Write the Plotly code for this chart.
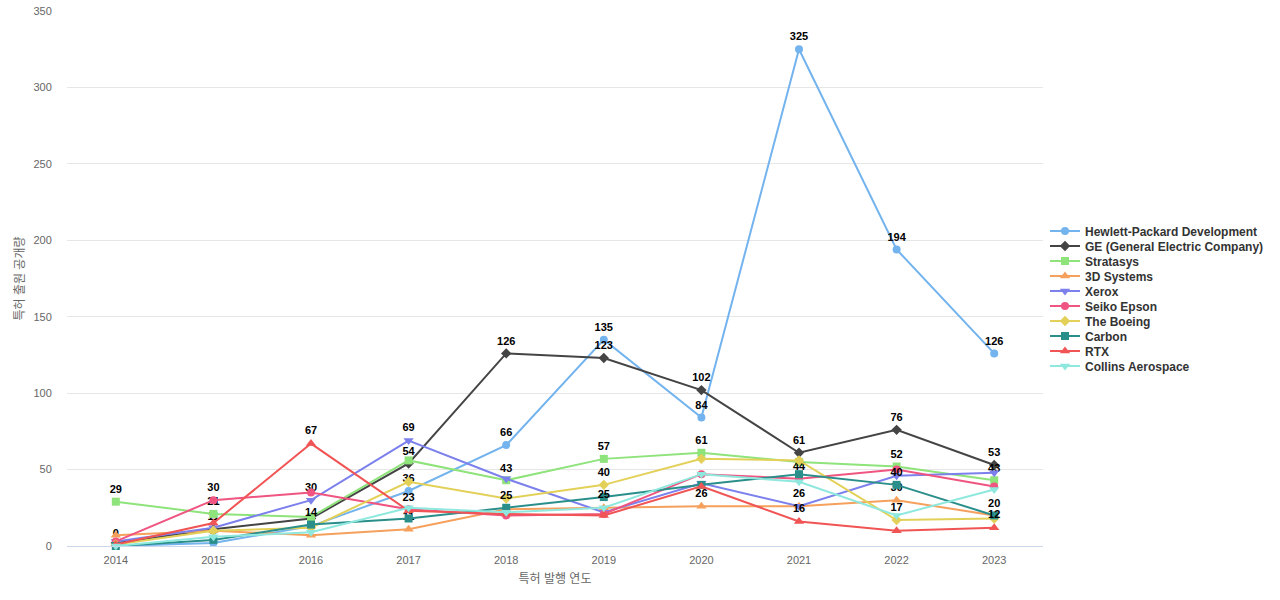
import plotly.graph_objects as go

years = ["2014", "2015", "2016", "2017", "2018", "2019", "2020", "2021", "2022", "2023"]

hp = [0, 2, 13, 36, 66, 135, 84, 325, 194, 126]
ge = [2, 11, 18, 54, 126, 123, 102, 61, 76, 53]
stratasys = [29, 21, 19, 56, 43, 57, 61, 55, 52, 43]
sys3d = [7, 10, 7, 11, 24, 25, 26, 26, 30, 20]
xerox = [3, 12, 30, 69, 44, 22, 41, 26, 46, 48]
seiko = [3, 30, 35, 24, 20, 21, 47, 44, 50, 39]
boeing = [1, 10, 12, 42, 31, 40, 57, 56, 17, 18]
carbon = [0, 4, 14, 18, 25, 32, 40, 47, 40, 20]
rtx = [1, 15, 67, 23, 21, 20, 39, 16, 10, 12]
collins = [0, 6, 9, 25, 22, 25, 47, 42, 20, 37]

# which points carry a visible value label (by year index)
labels_hp = [0, 1, 3, 4, 5, 6, 7, 8, 9]
labels_ge = [1, 3, 4, 5, 6, 7, 8, 9]
labels_stratasys = [0, 1, 4, 5, 6, 8, 9]
labels_3d = [3, 6, 8]
labels_xerox = [2, 3, 7]
labels_seiko = [1, 7]
labels_boeing = [5, 8]
labels_carbon = [2, 4, 8, 9]
labels_rtx = [2, 3, 7, 9]
labels_collins = [5]

series = [
    ("Hewlett-Packard Development", hp, "#73b3ee", "circle", 8, labels_hp),
    ("GE (General Electric Company)", ge, "#444444", "diamond", 8, labels_ge),
    ("Stratasys", stratasys, "#8ee37a", "square", 8, labels_stratasys),
    ("3D Systems", sys3d, "#f5a05c", "triangle-up", 9, labels_3d),
    ("Xerox", xerox, "#7c80ec", "triangle-down", 9, labels_xerox),
    ("Seiko Epson", seiko, "#ef5580", "circle", 8, labels_seiko),
    ("The Boeing", boeing, "#e3d058", "diamond", 8, labels_boeing),
    ("Carbon", carbon, "#2a8f8b", "square", 8, labels_carbon),
    ("RTX", rtx, "#f05454", "triangle-up", 9, labels_rtx),
    ("Collins Aerospace", collins, "#8ee8de", "triangle-down", 9, labels_collins),
]

FIG_H = 600
LEG_FIRST, LEG_STEP = 231, 15

fig = go.Figure()
legend_layouts = {}
for k, (name, vals, color, sym, msize, lab) in enumerate(series):
    text = [str(v) if i in lab else "" for i, v in enumerate(vals)]
    lname = "legend" if k == 0 else f"legend{k + 1}"
    fig.add_trace(go.Scatter(
        x=years, y=vals, name=name,
        mode="lines+markers+text",
        line=dict(color=color, width=2),
        marker=dict(color=color, symbol=sym, size=msize),
        text=text, textposition="top center",
        textfont=dict(family="Liberation Sans, Arial, sans-serif", size=11, color="#000000", weight="bold"),
        cliponaxis=False,
        legend=lname,
    ))
    ys = LEG_FIRST + k * LEG_STEP
    legend_layouts[lname] = dict(
        xref="container", yref="container",
        x=1045 / 1280, xanchor="left",
        y=1 - ys / FIG_H, yanchor="middle",
        font=dict(family="Liberation Sans, Arial, sans-serif", size=12, color="#333333", weight="bold"),
        itemwidth=30, bgcolor="rgba(0,0,0,0)", borderwidth=0,
    )

fig.update_layout(
    width=1280, height=FIG_H,
    margin=dict(l=67, r=237, t=11, b=54),
    paper_bgcolor="white", plot_bgcolor="white",
    font=dict(family="Liberation Sans, Noto Sans CJK KR, sans-serif", size=11, color="#666666"),
    showlegend=True,
    xaxis=dict(
        type="category", range=[-0.5, 9.5], automargin=False,
        showgrid=False, showline=True, linecolor="#ccd6eb", linewidth=1,
        ticks="outside", ticklen=4, tickcolor="rgba(0,0,0,0)",
        tickfont=dict(size=11, color="#666666"),
        title=dict(text="특허 발행 연도", font=dict(size=12, color="#666666"), standoff=9),
        zeroline=False,
    ),
    yaxis=dict(
        range=[0, 350], dtick=50, automargin=False,
        showgrid=True, gridcolor="#e6e6e6", gridwidth=1,
        zeroline=False, showline=False,
        ticks="outside", ticklen=12, tickcolor="rgba(0,0,0,0)",
        tickfont=dict(size=11, color="#666666"),
        title=dict(text="특허 출원 공개량", font=dict(size=12, color="#666666"), standoff=6),
    ),
    **legend_layouts,
)

fig.write_html("out.html", config={"displayModeBar": False},
               post_script="document.body.style.margin='0';")
